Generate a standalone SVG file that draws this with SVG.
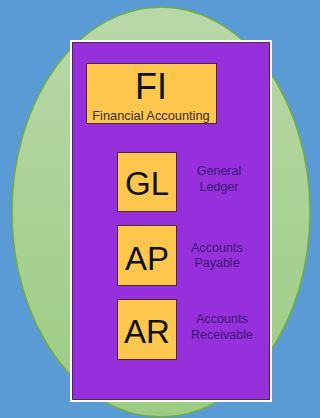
<svg xmlns="http://www.w3.org/2000/svg" width="320" height="418" viewBox="0 0 320 418">
<defs>
<linearGradient id="g" x1="0" y1="0" x2="0" y2="1">
<stop offset="0" stop-color="#b9d8a8"/>
<stop offset="1" stop-color="#9ccc82"/>
</linearGradient>
<style>
.box{fill:#fdc74d;stroke:#4a2a3a;stroke-width:1}
.big{font-family:"Liberation Sans",Arial,sans-serif;font-size:33px;fill:#111;text-anchor:middle}
.lbl{font-family:"Liberation Sans",Arial,sans-serif;font-size:12.5px;fill:#3a1670;text-anchor:middle}
</style>
</defs>
<rect width="320" height="418" fill="#5b9bd5"/>
<ellipse cx="161" cy="212" rx="149" ry="205" fill="url(#g)" stroke="#70ad47" stroke-width="1.5"/>
<rect x="70" y="40" width="202" height="362" fill="#ffffff"/>
<rect x="72.5" y="42.5" width="197" height="357" fill="#9530dc" stroke="#4a2a4a" stroke-width="1"/>
<g id="FI">
<rect class="box" x="86.5" y="63.5" width="130" height="60"/>
<text class="big" x="151" y="99" style="font-size:36px">FI</text>
<text x="151" y="120" font-family="Liberation Sans,Arial,sans-serif" font-size="12.8" fill="#3a2a2a" text-anchor="middle">Financial Accounting</text>
</g>
<g id="GL">
<rect class="box" x="117.5" y="152.5" width="59" height="59"/>
<text class="big" x="147" y="195">GL</text>
<text class="lbl" x="219" y="175">General</text>
<text class="lbl" x="219" y="191">Ledger</text>
</g>
<g id="AP">
<rect class="box" x="117.5" y="225.5" width="59" height="60"/>
<text class="big" x="147" y="270">AP</text>
<text class="lbl" x="217" y="252">Accounts</text>
<text class="lbl" x="217" y="267">Payable</text>
</g>
<g id="AR">
<rect class="box" x="117.5" y="299.5" width="59" height="60"/>
<text class="big" x="147" y="343">AR</text>
<text class="lbl" x="222" y="323">Accounts</text>
<text class="lbl" x="222" y="339">Receivable</text>
</g>
<g id="connectors"/>
</svg>
